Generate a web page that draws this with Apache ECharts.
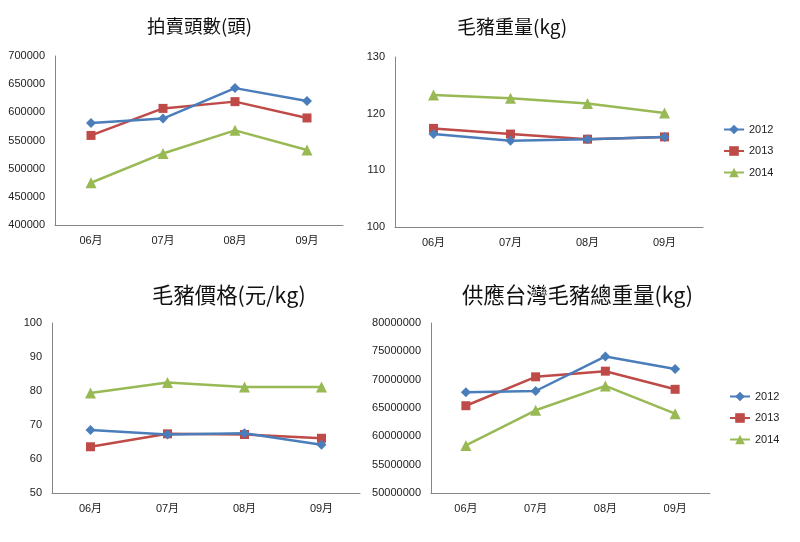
<!DOCTYPE html>
<html><head><meta charset="utf-8">
<script src="https://cdn.jsdelivr.net/npm/echarts@6/dist/echarts.min.js"></script>
<style>html,body{margin:0;padding:0;background:#fff}#c{width:800px;height:542px}</style>
</head><body><div id="c"></div>
<script>
var months = ['06月','07月','08月','09月'];
var years = ['2012','2013','2014'];
var titles = ['拍賣頭數(頭)','毛豬重量(kg)','毛豬價格(元/kg)','供應台灣毛豬總重量(kg)'];

var head2012 = [581000, 589000, 643000, 620000];
var head2013 = [559000, 607000, 619000, 590000];
var head2014 = [475000, 527000, 568000, 533000];

var weight2012 = [116.4, 115.2, 115.5, 115.9];
var weight2013 = [117.4, 116.4, 115.5, 115.9];
var weight2014 = [123.3, 122.7, 121.8, 120.1];

var price2012 = [68.5, 67.2, 67.6, 64.2];
var price2013 = [63.6, 67.4, 67.2, 66.1];
var price2014 = [79.4, 82.5, 81.2, 81.2];

var total2012 = [67800000, 68000000, 74100000, 71900000];
var total2013 = [65400000, 70500000, 71500000, 68300000];
var total2014 = [58400000, 64600000, 68900000, 64000000];

var yMin = [400000, 100, 50, 50000000];
var yMax = [700000, 130, 100, 80000000];
var yStep = [50000, 10, 10, 5000000];

var dataSets = [
  [head2012, head2013, head2014],
  [weight2012, weight2013, weight2014],
  [price2012, price2013, price2014],
  [total2012, total2013, total2014]
];

var colors = ['#4a7ebb', '#be4b48', '#98b954'];
var symbols = ['diamond', 'rect', 'triangle'];
var symSizes = [10, 9, 11];

var grids = [
  {left: 55, top: 56, width: 288, height: 169},
  {left: 395, top: 57, width: 308, height: 170},
  {left: 52, top: 323, width: 308, height: 170},
  {left: 431, top: 323, width: 279, height: 170}
];
var titlePos = [
  {left: 147, top: 17, size: 18.5},
  {left: 457, top: 17, size: 19},
  {left: 152, top: 284, size: 21.4},
  {left: 462, top: 284, size: 21.4}
];

var font = 'Liberation Sans, Noto Sans CJK TC, sans-serif';
var axisLine = {show: true, lineStyle: {color: '#868686', width: 1}};

var option = {
  backgroundColor: '#fff',
  animation: false,
  title: titles.map(function (t, i) {
    return {text: t, left: titlePos[i].left, top: titlePos[i].top, padding: 0,
      textStyle: {fontFamily: 'Noto Sans CJK TC, sans-serif', fontWeight: 'normal', fontSize: titlePos[i].size, color: '#111'}};
  }),
  legend: [
    {orient: 'vertical', left: 723, top: 124, itemWidth: 20, itemHeight: 12, itemGap: 10.5,
      data: years, textStyle: {fontFamily: font, fontSize: 11, color: '#222'}, padding: 0},
    {orient: 'vertical', left: 729, top: 391, itemWidth: 20, itemHeight: 12, itemGap: 10.5,
      data: years, textStyle: {fontFamily: font, fontSize: 11, color: '#222'}, padding: 0}
  ],
  grid: grids,
  xAxis: grids.map(function (g, i) {
    return {type: 'category', gridIndex: i, data: months, boundaryGap: true,
      axisLine: axisLine, axisTick: {show: false}, splitLine: {show: false},
      axisLabel: {fontFamily: font, fontSize: 11, color: '#222', margin: 10}};
  }),
  yAxis: grids.map(function (g, i) {
    return {type: 'value', gridIndex: i, min: yMin[i], max: yMax[i], interval: yStep[i],
      axisLine: axisLine, axisTick: {show: false}, splitLine: {show: false},
      axisLabel: {fontFamily: font, fontSize: 11, color: '#222', margin: 10,
        formatter: function (v) { return String(v); }}};
  }),
  series: []
};

dataSets.forEach(function (set, gi) {
  set.forEach(function (vals, si) {
    option.series.push({
      type: 'line', name: years[si], xAxisIndex: gi, yAxisIndex: gi,
      data: vals, symbol: symbols[si], symbolSize: symSizes[si],
      itemStyle: {color: colors[si]},
      lineStyle: {color: colors[si], width: 2.5},
      z: 3 - si
    });
  });
});

var chart = echarts.init(document.getElementById('c'), null, {renderer: 'canvas'});
chart.setOption(option);
</script></body></html>
